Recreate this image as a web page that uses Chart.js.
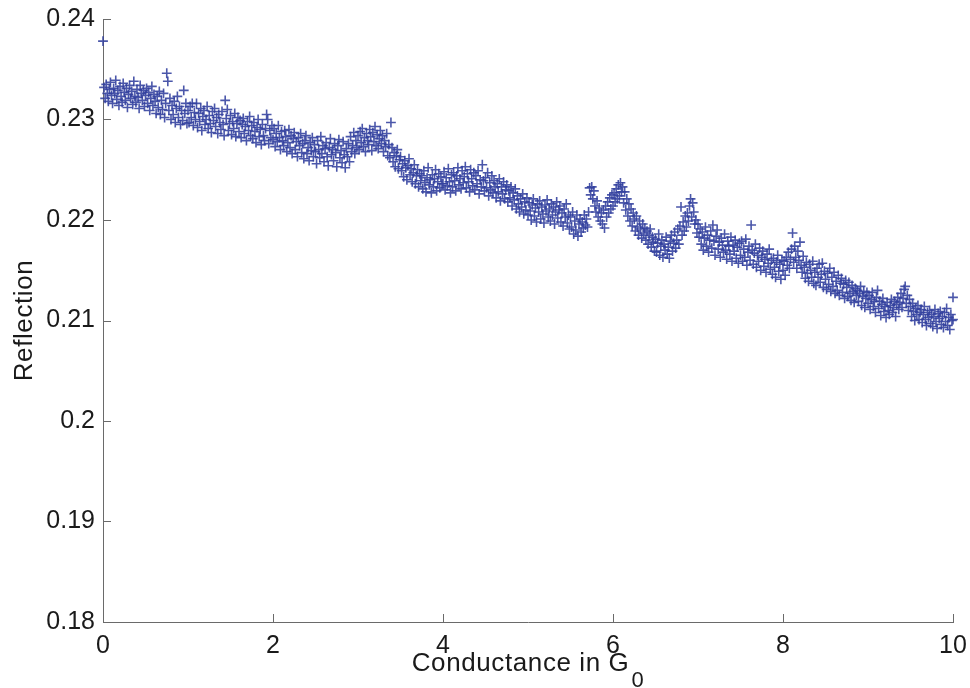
<!DOCTYPE html>
<html>
<head>
<meta charset="utf-8">
<script src="https://cdn.jsdelivr.net/npm/chart.js@4/dist/chart.umd.min.js"></script>
<style>
  html, body { margin: 0; padding: 0; background: #ffffff; }
  #wrap { width: 970px; height: 688px; }
</style>
</head>
<body>
<div id="wrap"><canvas id="c" width="970" height="688"></canvas></div>
<script>
// Reflection measured while sweeping conductance; one segment per G0 unit,
// samples every 0.0125 G0 starting at the segment's integer conductance.
const sweepStep = 0.0125;
const seg0 = [0.2378,0.2332,0.2321,0.2335,0.2326,0.2318,0.2330,0.2337,0.2324,0.2316,
              0.2331,0.2326,0.2339,0.2320,0.2329,0.2314,0.2333,0.2323,0.2317,0.2336,
              0.2327,0.2319,0.2331,0.2312,0.2325,0.2334,0.2321,0.2328,0.2315,0.2338,
              0.2323,0.2317,0.2330,0.2322,0.2311,0.2334,0.2326,0.2319,0.2329,0.2313,
              0.2324,0.2331,0.2316,0.2327,0.2309,0.2321,0.2333,0.2314,0.2325,0.2318,
              0.2306,0.2323,0.2312,0.2328,0.2305,0.2319,0.2310,0.2326,0.2302,0.2316,
              0.2346,0.2338,0.2309,0.2321,0.2300,0.2314,0.2305,0.2318,0.2297,0.2311,
              0.2323,0.2302,0.2313,0.2295,0.2309,0.2299,0.2329,0.2306,0.2316,0.2296];
const seg1 = [0.2309,0.2297,0.2313,0.2302,0.2316,0.2294,0.2307,0.2300,0.2316,0.2292,
              0.2306,0.2298,0.2311,0.2289,0.2303,0.2309,0.2295,0.2300,0.2313,0.2291,
              0.2304,0.2296,0.2287,0.2308,0.2299,0.2311,0.2293,0.2302,0.2286,0.2305,
              0.2297,0.2290,0.2308,0.2295,0.2284,0.2319,0.2301,0.2310,0.2289,0.2296,
              0.2304,0.2285,0.2298,0.2291,0.2306,0.2283,0.2296,0.2302,0.2288,0.2299,
              0.2282,0.2295,0.2301,0.2286,0.2293,0.2279,0.2298,0.2289,0.2303,0.2284,
              0.2294,0.2281,0.2297,0.2288,0.2277,0.2292,0.2300,0.2283,0.2290,0.2275,
              0.2295,0.2284,0.2279,0.2291,0.2305,0.2300,0.2276,0.2289,0.2282,0.2294];
const seg2 = [0.2280,0.2291,0.2273,0.2286,0.2278,0.2294,0.2282,0.2270,0.2288,0.2279,
              0.2274,0.2289,0.2283,0.2268,0.2277,0.2290,0.2272,0.2284,0.2266,0.2281,
              0.2287,0.2270,0.2278,0.2263,0.2282,0.2274,0.2286,0.2267,0.2276,0.2261,
              0.2279,0.2284,0.2266,0.2272,0.2259,0.2277,0.2269,0.2282,0.2263,0.2275,
              0.2268,0.2256,0.2279,0.2270,0.2262,0.2283,0.2266,0.2274,0.2258,0.2271,
              0.2277,0.2263,0.2254,0.2272,0.2281,0.2265,0.2270,0.2259,0.2276,0.2267,
              0.2253,0.2274,0.2280,0.2262,0.2269,0.2257,0.2278,0.2265,0.2252,0.2271,
              0.2263,0.2276,0.2258,0.2283,0.2268,0.2274,0.2287,0.2266,0.2279,0.2272];
const seg3 = [0.2284,0.2270,0.2288,0.2277,0.2291,0.2273,0.2282,0.2268,0.2286,0.2279,
              0.2275,0.2290,0.2283,0.2269,0.2287,0.2278,0.2293,0.2274,0.2285,0.2271,
              0.2281,0.2289,0.2276,0.2284,0.2268,0.2279,0.2273,0.2286,0.2264,0.2275,
              0.2262,0.2297,0.2272,0.2258,0.2267,0.2253,0.2264,0.2270,0.2251,0.2260,
              0.2263,0.2249,0.2256,0.2243,0.2259,0.2252,0.2240,0.2254,0.2261,0.2245,
              0.2251,0.2238,0.2247,0.2255,0.2236,0.2244,0.2250,0.2233,0.2246,0.2239,
              0.2244,0.2231,0.2249,0.2237,0.2228,0.2242,0.2252,0.2235,0.2240,0.2227,
              0.2245,0.2233,0.2241,0.2250,0.2229,0.2238,0.2246,0.2232,0.2243,0.2236];
const seg4 = [0.2236,0.2248,0.2230,0.2242,0.2234,0.2251,0.2238,0.2227,0.2245,0.2233,
              0.2247,0.2239,0.2229,0.2244,0.2252,0.2235,0.2241,0.2231,0.2249,0.2237,
              0.2243,0.2253,0.2232,0.2246,0.2238,0.2228,0.2250,0.2241,0.2234,0.2247,
              0.2230,0.2244,0.2236,0.2249,0.2226,0.2240,0.2233,0.2255,0.2239,0.2229,
              0.2242,0.2232,0.2247,0.2224,0.2237,0.2230,0.2244,0.2227,0.2239,0.2233,
              0.2222,0.2236,0.2228,0.2241,0.2219,0.2233,0.2226,0.2238,0.2221,0.2230,
              0.2235,0.2218,0.2229,0.2222,0.2233,0.2214,0.2227,0.2220,0.2231,0.2211,
              0.2224,0.2216,0.2208,0.2221,0.2213,0.2226,0.2206,0.2218,0.2210,0.2222];
const seg5 = [0.2205,0.2217,0.2209,0.2200,0.2215,0.2221,0.2204,0.2212,0.2198,0.2216,
              0.2208,0.2219,0.2201,0.2213,0.2206,0.2197,0.2215,0.2209,0.2220,0.2203,
              0.2211,0.2199,0.2216,0.2205,0.2213,0.2196,0.2208,0.2218,0.2202,0.2210,
              0.2214,0.2198,0.2207,0.2194,0.2211,0.2203,0.2216,0.2197,0.2205,0.2191,
              0.2203,0.2193,0.2208,0.2186,0.2199,0.2190,0.2205,0.2184,0.2196,0.2201,
              0.2188,0.2198,0.2192,0.2205,0.2195,0.2201,0.2193,0.2208,0.2232,0.2225,
              0.2233,0.2221,0.2229,0.2214,0.2208,0.2219,0.2203,0.2212,0.2199,0.2207,
              0.2196,0.2210,0.2192,0.2214,0.2203,0.2218,0.2207,0.2222,0.2211,0.2225];
const seg6 = [0.2214,0.2227,0.2218,0.2231,0.2221,0.2235,0.2224,0.2237,0.2228,0.2233,
              0.2217,0.2228,0.2210,0.2221,0.2204,0.2216,0.2199,0.2211,0.2194,0.2207,
              0.2201,0.2189,0.2204,0.2193,0.2185,0.2199,0.2191,0.2182,0.2196,0.2187,
              0.2192,0.2180,0.2189,0.2176,0.2185,0.2191,0.2173,0.2183,0.2178,0.2169,
              0.2181,0.2168,0.2177,0.2186,0.2165,0.2174,0.2180,0.2163,0.2176,0.2170,
              0.2183,0.2166,0.2173,0.2162,0.2179,0.2185,0.2169,0.2177,0.2188,0.2172,
              0.2180,0.2191,0.2176,0.2194,0.2213,0.2185,0.2198,0.2189,0.2204,0.2193,
              0.2207,0.2199,0.2214,0.2221,0.2203,0.2217,0.2208,0.2196,0.2200,0.2187];
const seg7 = [0.2196,0.2183,0.2191,0.2176,0.2188,0.2170,0.2182,0.2193,0.2174,0.2185,
              0.2168,0.2180,0.2189,0.2172,0.2195,0.2179,0.2165,0.2184,0.2190,0.2171,
              0.2178,0.2163,0.2182,0.2175,0.2168,0.2186,0.2170,0.2161,0.2179,0.2174,
              0.2166,0.2183,0.2159,0.2175,0.2169,0.2180,0.2162,0.2173,0.2157,0.2177,
              0.2165,0.2179,0.2159,0.2171,0.2163,0.2181,0.2155,0.2168,0.2174,0.2160,
              0.2195,0.2170,0.2156,0.2167,0.2176,0.2153,0.2165,0.2159,0.2172,0.2150,
              0.2163,0.2169,0.2154,0.2161,0.2148,0.2166,0.2157,0.2171,0.2151,0.2160,
              0.2146,0.2162,0.2153,0.2143,0.2158,0.2165,0.2149,0.2156,0.2141,0.2160];
const seg8 = [0.2150,0.2159,0.2145,0.2163,0.2155,0.2168,0.2152,0.2161,0.2171,0.2187,
              0.2158,0.2174,0.2163,0.2152,0.2169,0.2160,0.2178,0.2155,0.2148,0.2164,
              0.2153,0.2142,0.2158,0.2147,0.2139,0.2156,0.2150,0.2143,0.2159,0.2137,
              0.2148,0.2135,0.2152,0.2143,0.2156,0.2138,0.2146,0.2157,0.2133,0.2149,
              0.2141,0.2131,0.2147,0.2136,0.2152,0.2129,0.2143,0.2134,0.2148,0.2127,
              0.2139,0.2130,0.2145,0.2125,0.2137,0.2142,0.2128,0.2136,0.2122,0.2140,
              0.2133,0.2124,0.2138,0.2127,0.2120,0.2135,0.2129,0.2118,0.2132,0.2125,
              0.2130,0.2119,0.2127,0.2134,0.2115,0.2124,0.2129,0.2113,0.2122,0.2128];
const seg9 = [0.2117,0.2125,0.2111,0.2121,0.2128,0.2114,0.2119,0.2108,0.2123,0.2130,
              0.2112,0.2119,0.2105,0.2116,0.2122,0.2109,0.2114,0.2103,0.2118,0.2110,
              0.2106,0.2115,0.2121,0.2108,0.2113,0.2119,0.2104,0.2116,0.2123,0.2111,
              0.2118,0.2127,0.2113,0.2122,0.2131,0.2134,0.2117,0.2125,0.2110,0.2121,
              0.2114,0.2104,0.2117,0.2109,0.2100,0.2112,0.2106,0.2115,0.2101,0.2108,
              0.2111,0.2098,0.2106,0.2114,0.2101,0.2095,0.2108,0.2103,0.2110,0.2097,
              0.2106,0.2094,0.2104,0.2111,0.2099,0.2092,0.2107,0.2102,0.2109,0.2096,
              0.2104,0.2093,0.2108,0.2099,0.2112,0.2095,0.2103,0.2091,0.2106,0.2100];
// samples taken at the very end of the sweep
const endConductance = [10, 10];
const endReflection = [0.2123, 0.2101];

const xTicks = [0, 2, 4, 6, 8, 10];
const yTicks = [0.18, 0.19, 0.20, 0.21, 0.22, 0.23, 0.24];

const segments = [seg0, seg1, seg2, seg3, seg4, seg5, seg6, seg7, seg8, seg9];
const points = [];
segments.forEach((seg, k) => {
  seg.forEach((r, i) => points.push({ x: k + i * sweepStep, y: r }));
});
endConductance.forEach((g, i) => points.push({ x: g, y: endReflection[i] }));

const FONT = '"Liberation Sans", Arial, Helvetica, sans-serif';
const AXIS_COLOR = '#6a6a6a';
const TEXT_COLOR = '#1a1a1a';
const MARK_COLOR = 'rgba(50,64,158,0.88)';

// inward tick marks plus the axis titles (x title carries a subscript)
const axisDecor = {
  id: 'axisDecor',
  afterDraw(chart) {
    const { ctx, chartArea: a, scales: { x, y } } = chart;
    ctx.save();
    ctx.strokeStyle = AXIS_COLOR;
    ctx.lineWidth = 1;
    const tl = 8;
    ctx.beginPath();
    xTicks.forEach(v => {
      const px = Math.round(x.getPixelForValue(v)) + 0.5;
      ctx.moveTo(px, a.bottom); ctx.lineTo(px, a.bottom - tl);
    });
    yTicks.forEach(v => {
      const py = Math.round(y.getPixelForValue(v)) + 0.5;
      ctx.moveTo(a.left, py); ctx.lineTo(a.left + tl, py);
    });
    ctx.stroke();

    ctx.fillStyle = TEXT_COLOR;
    ctx.textBaseline = 'alphabetic';
    ctx.letterSpacing = '0.6px';
    // x title: "Conductance in G" with subscript 0
    const main = 'Conductance in G';
    const sub = '0';
    ctx.font = '26px ' + FONT;
    const wMain = ctx.measureText(main).width;
    ctx.font = '22px ' + FONT;
    const wSub = ctx.measureText(sub).width;
    const cx = (a.left + a.right) / 2;
    const startX = cx - (wMain + wSub + 2) / 2;
    ctx.font = '26px ' + FONT;
    ctx.textAlign = 'left';
    ctx.fillText(main, startX, 671);
    ctx.font = '22px ' + FONT;
    ctx.fillText(sub, startX + wMain + 2, 687);

    // y title
    ctx.translate(32, (a.top + a.bottom) / 2);
    ctx.rotate(-Math.PI / 2);
    ctx.textAlign = 'center';
    ctx.font = '26px ' + FONT;
    ctx.fillText('Reflection', 0, 0);
    ctx.restore();
  }
};

new Chart(document.getElementById('c'), {
  type: 'scatter',
  data: {
    datasets: [{
      data: points,
      pointStyle: 'cross',
      pointRadius: 4.9,
      pointBorderWidth: 1.6,
      borderColor: MARK_COLOR,
      backgroundColor: MARK_COLOR,
      showLine: false,
      clip: false
    }]
  },
  options: {
    responsive: false,
    devicePixelRatio: 1,
    animation: false,
    layout: { padding: { left: 0, right: 17, top: 19, bottom: 0 } },
    plugins: { legend: { display: false }, tooltip: { enabled: false } },
    scales: {
      x: {
        type: 'linear', min: 0, max: 10,
        afterBuildTicks: s => { s.ticks = xTicks.map(v => ({ value: v })); },
        afterFit: s => { s.height = 66; s.paddingLeft = 0; s.paddingRight = 0; },
        grid: { display: false, drawTicks: false },
        border: { display: true, color: AXIS_COLOR, width: 1 },
        ticks: { color: TEXT_COLOR, font: { family: FONT, size: 25 }, padding: 9,
                 maxRotation: 0, autoSkip: false, callback: v => String(v) }
      },
      y: {
        type: 'linear', min: 0.18, max: 0.24,
        afterBuildTicks: s => { s.ticks = yTicks.map(v => ({ value: v })); },
        afterFit: s => { s.width = 103; s.paddingTop = 0; s.paddingBottom = 0; },
        grid: { display: false, drawTicks: false },
        border: { display: true, color: AXIS_COLOR, width: 1 },
        ticks: { color: TEXT_COLOR, font: { family: FONT, size: 25 }, padding: 8,
                 autoSkip: false, callback: v => String(Number(v.toFixed(2))) }
      }
    }
  },
  plugins: [axisDecor]
});
</script>
</body>
</html>
